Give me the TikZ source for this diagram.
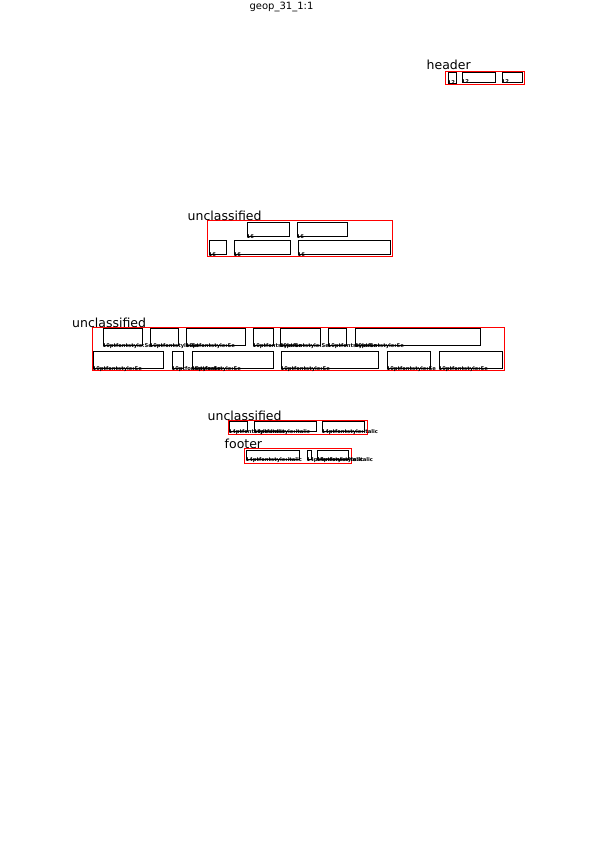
\documentclass[tikz,border=0pt]{standalone}
\usepackage{fontspec}
\setmainfont{DejaVu Sans}

\begin{document}
\begin{tikzpicture}[x=1pt,y=-1pt,
    region/.style={draw=red,line width=1pt},
    span/.style={draw=black,line width=1pt},
    tag/.style={anchor=base west,inner sep=0pt,font=\fontsize{5.2}{6}\selectfont\bfseries},
    kind/.style={anchor=base west,inner sep=0pt,font=\fontsize{12.5}{14}\selectfont}]

    \useasboundingbox (-0.5,-0.5) rectangle (594.5,841.5);

    \node[anchor=base,inner sep=0pt,font=\fontsize{10}{12}\selectfont] (pagename)
        at (281,9.5) {geop\_31\_1:1};

    % header
    \draw[region] (445,71) rectangle (524,84);
    \node[kind] (header) at (426,69.5) {header};
    \draw[span] (448,72) rectangle (456,83);
    \draw[span] (462,72) rectangle (495,82);
    \draw[span] (502,72) rectangle (522,82);
    \node[tag] (h1) at (447,84.5) {12};
    \node[tag] (h2) at (461,83.5) {12};
    \node[tag] (h3) at (501,83.5) {12};

    % first unclassified block
    \draw[region] (207,220) rectangle (392,256);
    \node[kind] (unclA) at (187,219.5) {unclassified};
    \draw[span] (247,222) rectangle (289,236);
    \draw[span] (297,222) rectangle (347,236);
    \draw[span] (209,240) rectangle (226,254);
    \draw[span] (234,240) rectangle (290,254);
    \draw[span] (298,240) rectangle (390,254);
    \node[tag] (a1) at (246,238) {16};
    \node[tag] (a2) at (296,238) {16};
    \node[tag] (a3) at (208,256) {16};
    \node[tag] (a4) at (233,256) {16};
    \node[tag] (a5) at (297,256) {16};

    % second unclassified block
    \draw[region] (92,327) rectangle (504,370);
    \node[kind] (unclB) at (71.5,326.5) {unclassified};
    \draw[span] (103,328) rectangle (142,345);
    \draw[span] (150,328) rectangle (178,345);
    \draw[span] (186,328) rectangle (245,345);
    \draw[span] (253,328) rectangle (273,345);
    \draw[span] (280,328) rectangle (320,345);
    \draw[span] (328,328) rectangle (346,345);
    \draw[span] (355,328) rectangle (480,345);
    \draw[span] (93,351) rectangle (163,368);
    \draw[span] (172,351) rectangle (183,368);
    \draw[span] (192,351) rectangle (273,368);
    \draw[span] (281,351) rectangle (378,368);
    \draw[span] (387,351) rectangle (430,368);
    \draw[span] (439,351) rectangle (502,368);
    \node[tag] (b1) at (102,346.5) {10ptfontstyle:Se};
    \node[tag] (b2) at (149,346.5) {10ptfontstyle:Se};
    \node[tag] (b3) at (185,346.5) {10ptfontstyle:Se};
    \node[tag] (b4) at (252,346.5) {10ptfontstyle:Se};
    \node[tag] (b5) at (279,346.5) {10ptfontstyle:Se};
    \node[tag] (b6) at (327,346.5) {10ptfontstyle:Se};
    \node[tag] (b7) at (354,346.5) {10ptfontstyle:Se};
    \node[tag] (b8) at (92,369.5) {10ptfontstyle:Se};
    \node[tag] (b9) at (171,369.5) {10ptfontstyle:Se};
    \node[tag] (b10) at (191,369.5) {10ptfontstyle:Se};
    \node[tag] (b11) at (280,369.5) {10ptfontstyle:Se};
    \node[tag] (b12) at (386,369.5) {10ptfontstyle:Se};
    \node[tag] (b13) at (438,369.5) {10ptfontstyle:Se};

    % third unclassified block
    \draw[region] (228,420) rectangle (367,434);
    \node[kind] (unclC) at (207,419.5) {unclassified};
    \draw[span] (229,421) rectangle (247,431);
    \draw[span] (254,421) rectangle (316,431);
    \draw[span] (322,421) rectangle (364,431);
    \node[tag] (c1) at (228,432.5) {14ptfontstyle:italic};
    \node[tag] (c2) at (253,432.5) {14ptfontstyle:italic};
    \node[tag] (c3) at (321,432.5) {14ptfontstyle:italic};

    % footer
    \draw[region] (244,448) rectangle (351,463);
    \node[kind] (footer) at (224,448) {footer};
    \draw[span] (246,450) rectangle (299,459);
    \draw[span] (307,450) rectangle (311,459);
    \draw[span] (317,450) rectangle (348,459);
    \node[tag] (f1) at (245,460.5) {14ptfontstyle:italic};
    \node[tag] (f2) at (306,460.5) {14ptfontstyle:italic};
    \node[tag] (f3) at (316,460.5) {14ptfontstyle:italic};

\end{tikzpicture}
\end{document}
